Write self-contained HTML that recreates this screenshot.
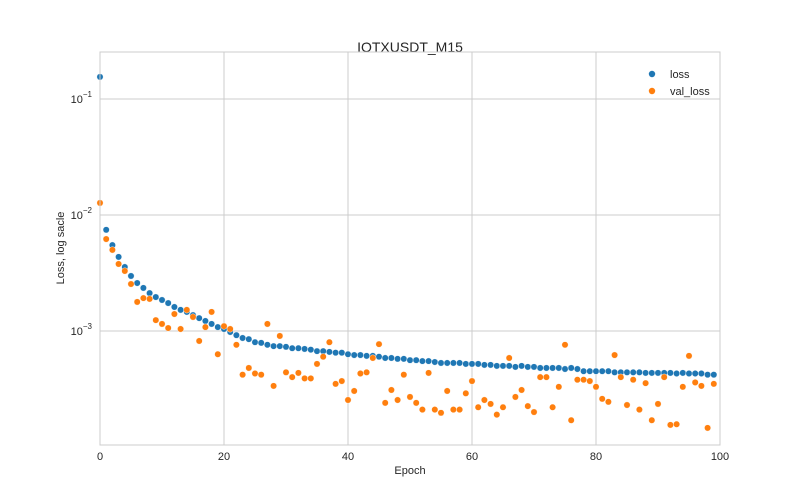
<!DOCTYPE html>
<html><head><meta charset="utf-8"><style>
html,body{margin:0;padding:0;background:#fff;}
svg{display:block;font-family:"Liberation Sans","DejaVu Sans",sans-serif;}
</style></head><body>
<svg id="chart" width="800" height="500" viewBox="0 0 800 500" xmlns="http://www.w3.org/2000/svg">
<rect width="800" height="500" fill="#fff"/>
<text x="410" y="52" text-anchor="middle" font-size="14" fill="#262626">IOTXUSDT_M15</text>
<text x="410" y="474" text-anchor="middle" font-size="11" fill="#262626">Epoch</text>
<text transform="translate(64,248) rotate(-90)" text-anchor="middle" font-size="11" fill="#262626">Loss, log sacle</text>
<g id="grid"></g>
<g id="ticks"></g>
<g id="marks"></g>
<rect x="100" y="52" width="620" height="393" fill="none" stroke="#cccccc" stroke-width="1"/>
<g>
<circle cx="652" cy="74" r="3.2" fill="#1f77b4"/>
<text x="670" y="78" font-size="11" fill="#262626">loss</text>
<circle cx="652" cy="91" r="3.2" fill="#ff7f0e"/>
<text x="670" y="95" font-size="11" fill="#262626">val_loss</text>
</g>
</svg>
<script>
const xTicks=[0,20,40,60,80,100];
const yTickExps=[-1,-2,-3];
const loss=[0.155,7.45e-3,5.5e-3,4.35e-3,3.56e-3,2.98e-3,2.59e-3,2.35e-3,2.12e-3,1.96e-3,
1.85e-3,1.74e-3,1.61e-3,1.52e-3,1.46e-3,1.37e-3,1.29e-3,1.22e-3,1.15e-3,1.08e-3,
1.04e-3,0.98e-3,0.92e-3,0.87e-3,0.85e-3,0.80e-3,0.79e-3,0.76e-3,0.74e-3,0.74e-3,
0.73e-3,0.71e-3,0.71e-3,0.70e-3,0.69e-3,0.67e-3,0.67e-3,0.66e-3,0.65e-3,0.65e-3,
0.63e-3,0.62e-3,0.62e-3,0.61e-3,0.61e-3,0.60e-3,0.585e-3,0.585e-3,0.575e-3,0.575e-3,
0.56e-3,0.56e-3,0.55e-3,0.55e-3,0.54e-3,0.53e-3,0.53e-3,0.53e-3,0.53e-3,0.52e-3,
0.52e-3,0.52e-3,0.51e-3,0.51e-3,0.50e-3,0.50e-3,0.50e-3,0.49e-3,0.50e-3,0.49e-3,
0.49e-3,0.48e-3,0.48e-3,0.48e-3,0.48e-3,0.47e-3,0.48e-3,0.47e-3,0.45e-3,0.45e-3,
0.45e-3,0.45e-3,0.45e-3,0.44e-3,0.44e-3,0.44e-3,0.44e-3,0.44e-3,0.435e-3,0.435e-3,
0.435e-3,0.435e-3,0.435e-3,0.43e-3,0.435e-3,0.43e-3,0.43e-3,0.43e-3,0.42e-3,0.42e-3];
const valLoss=[12.7e-3,6.2e-3,5.0e-3,3.78e-3,3.29e-3,2.54e-3,1.78e-3,1.92e-3,1.89e-3,1.24e-3,
1.15e-3,1.06e-3,1.40e-3,1.04e-3,1.52e-3,1.32e-3,0.82e-3,1.08e-3,1.46e-3,0.63e-3,
1.10e-3,1.04e-3,0.76e-3,0.42e-3,0.48e-3,0.43e-3,0.42e-3,1.15e-3,0.336e-3,0.906e-3,
0.44e-3,0.40e-3,0.435e-3,0.39e-3,0.39e-3,0.52e-3,0.60e-3,0.80e-3,0.35e-3,0.37e-3,
0.254e-3,0.304e-3,0.43e-3,0.44e-3,0.585e-3,0.77e-3,0.24e-3,0.31e-3,0.254e-3,0.42e-3,
0.27e-3,0.24e-3,0.21e-3,0.435e-3,0.21e-3,0.197e-3,0.304e-3,0.21e-3,0.21e-3,0.29e-3,
0.37e-3,0.22e-3,0.254e-3,0.235e-3,0.19e-3,0.22e-3,0.585e-3,0.27e-3,0.31e-3,0.225e-3,
0.20e-3,0.40e-3,0.40e-3,0.22e-3,0.33e-3,0.76e-3,0.17e-3,0.38e-3,0.38e-3,0.37e-3,
0.33e-3,0.26e-3,0.245e-3,0.62e-3,0.40e-3,0.23e-3,0.38e-3,0.21e-3,0.355e-3,0.17e-3,
0.235e-3,0.40e-3,0.155e-3,0.157e-3,0.33e-3,0.61e-3,0.36e-3,0.336e-3,0.146e-3,0.35e-3];

const NS='http://www.w3.org/2000/svg';
const X0=100,X1=720,Y0=445,Y1=52,LMIN=-3.983,LMAX=-0.595;
function xs(v){return X0+(v-0)/(100-0)*(X1-X0);}
function ys(v){return Y0-(Math.log10(v)-LMIN)/(LMAX-LMIN)*(Y0-Y1);}
function mk(tag,attrs){const e=document.createElementNS(NS,tag);for(const k in attrs)e.setAttribute(k,attrs[k]);return e;}
const grid=document.getElementById('grid'),ticks=document.getElementById('ticks'),marks=document.getElementById('marks');
xTicks.forEach(t=>{
  const x=xs(t);
  const l=mk('line',{x1:x,x2:x,y1:Y1,y2:Y0,stroke:'#cccccc','stroke-width':1});
  
  
  grid.appendChild(l);
  const tx=mk('text',{x:x,y:Y0+15,'text-anchor':'middle','font-size':11,fill:'#262626'});
  
  
  tx.textContent=t;ticks.appendChild(tx);
});
yTickExps.forEach(e=>{
  const y=ys(Math.pow(10,e));
  const l=mk('line',{x1:X0,x2:X1,y1:y,y2:y,stroke:'#cccccc','stroke-width':1});
  
  
  grid.appendChild(l);
  const tx=mk('text',{x:X0-8,y:y+4,'text-anchor':'end','font-size':11,fill:'#262626'});
  
  
  tx.appendChild(document.createTextNode('10'));
  const sup=mk('tspan',{dy:-6,'font-size':8});sup.textContent='\u2212'+Math.abs(e);
  tx.appendChild(sup);ticks.appendChild(tx);
});
function drawSeries(arr,color,name){
  arr.forEach((v,i)=>{
    const c=mk('circle',{cx:xs(i),cy:ys(v),r:3.2,fill:color,stroke:'#fff','stroke-width':0.4});
    
    
    marks.appendChild(c);
  });
}
drawSeries(loss,'#1f77b4','loss-point');
drawSeries(valLoss,'#ff7f0e','val-loss-point');
</script>
</body></html>
